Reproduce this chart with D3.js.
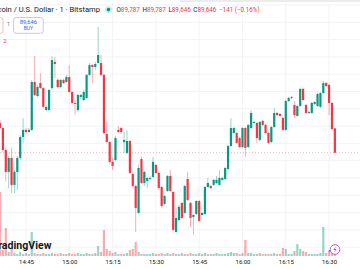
<!DOCTYPE html>
<html><head><meta charset="utf-8">
<script src="https://cdn.jsdelivr.net/npm/d3@7"></script>
<style>html,body{margin:0;padding:0;background:#fff;overflow:hidden}svg{display:block;font-family:Roboto,"Liberation Sans",sans-serif}</style>
</head><body><svg id="c" width="360" height="270"></svg>
<script>
// ---- data (BTC/USD, 1-minute candles, Bitstamp) ----
const startTime = "14:36";
const opens = [89818,89789,89662,89535,89616,89460,89535,89616,89737,89778,
89766,89778,90055,89974,90049,90020,89893,89893,90020,90171,
90067,90026,90067,90055,90084,89997,89934,89893,89968,89951,
89963,90096,90153,90142,90165,90165,90096,89754,89708,89593,
89604,89778,89789,89708,89645,89714,89523,89454,89298,89610,
89471,89483,89494,89506,89575,89529,89448,89350,89425,89512,
89419,89188,89257,89356,89298,89494,89356,89275,89292,89367,
89286,89292,89448,89454,89460,89471,89460,89489,89494,89552,
89685,89760,89760,89731,89679,89789,89679,89789,89818,89818,
89720,89830,89807,89760,89708,89795,89876,89870,89847,89778,
89945,89963,89922,89859,89916,90015,89922,89876,89876,89928,
89916,89911,89991,90049,90038,89934,89787];
const highs = [89835,89795,89679,89627,89674,89546,89627,89749,89847,89789,
89789,90067,90205,90038,90107,90026,89922,90015,90205,90200,
90078,90072,90072,90096,90153,90003,89951,89986,89986,90009,
90101,90165,90159,90171,90373,90211,90101,89824,89714,89616,
89743,89801,89795,89766,89778,89720,89535,89460,89575,89622,
89541,89506,89512,89622,89581,89535,89454,89402,89517,89546,
89425,89327,89344,89361,89460,89535,89361,89292,89373,89373,
89304,89454,89500,89460,89494,89512,89546,89506,89564,89691,
89847,89795,89766,89737,89795,89795,89812,89893,89830,89824,
89830,89835,89812,89766,89801,89905,89882,89876,89853,89951,
89968,89974,89945,89922,90020,90020,89928,89887,89939,89945,
89991,89997,90061,90055,90043,89939,89787];
const lows = [89778,89650,89483,89442,89413,89413,89431,89604,89703,89754,
89760,89772,89974,89968,90015,89905,89887,89887,90009,90078,
90020,90020,90043,90049,89991,89928,89864,89882,89957,89945,
89957,90090,90049,90124,90159,90090,89754,89703,89581,89546,
89598,89760,89754,89645,89639,89523,89448,89188,89292,89465,
89454,89442,89489,89500,89523,89431,89327,89344,89419,89419,
89194,89182,89252,89263,89292,89367,89217,89171,89286,89246,
89281,89286,89442,89437,89454,89465,89454,89483,89489,89546,
89679,89754,89697,89674,89674,89622,89674,89783,89812,89703,
89714,89801,89754,89697,89703,89789,89859,89853,89772,89772,
89939,89957,89847,89853,89911,89945,89870,89870,89870,89922,
89911,89905,89986,90026,89864,89778,89646];
const closes = [89789,89662,89535,89616,89460,89535,89616,89737,89778,89766,
89778,90055,89980,90026,90020,89911,89911,90009,90182,90159,
90026,90067,90049,90084,89997,89934,89928,89980,89980,89997,
90096,90153,90142,90159,90211,90096,89760,89708,89593,89570,
89731,89766,89766,89720,89714,89529,89454,89327,89558,89471,
89535,89500,89500,89593,89529,89442,89338,89396,89512,89425,
89200,89269,89333,89269,89454,89373,89269,89286,89367,89252,
89298,89448,89471,89442,89489,89489,89500,89500,89558,89685,
89789,89789,89703,89679,89789,89674,89807,89876,89824,89731,
89824,89807,89760,89703,89795,89876,89864,89859,89778,89945,
89963,89968,89864,89916,90015,89951,89876,89882,89934,89939,
89986,89991,90049,90032,89934,89783,89646];
const volumes = [6.4,0.6,2.8,0.4,0.7,0.3,0.2,0.4,0.2,0.3,
0.2,2.4,0.3,0.2,0.2,0.3,0.2,0.2,0.3,0.2,
0.2,0.3,0.2,0.2,0.3,0.2,0.2,0.3,0.2,0.2,
0.3,0.2,0.2,0.3,1.0,0.4,2.6,0.7,0.5,0.3,
0.4,0.2,0.2,0.2,0.3,0.6,0.7,1.4,0.4,0.2,
0.2,0.2,0.2,0.3,0.2,0.2,0.3,0.2,0.3,0.2,
0.3,0.2,0.2,0.3,0.2,0.2,0.3,0.2,0.2,0.3,
0.2,0.3,0.2,0.2,0.2,0.3,0.2,0.2,0.2,0.3,
0.4,0.3,0.3,0.2,0.3,1.6,0.3,0.3,0.2,0.2,
0.3,0.2,0.2,0.2,0.2,0.3,0.2,0.2,0.8,0.7,
0.2,0.2,0.5,1.2,0.7,0.5,0.4,0.2,0.2,0.2,
0.2,0.3,2.9,0.3,0.4,0.5,0.3];
const timeTicks = ["14:45","15:00","15:15","15:30","15:45","16:00","16:15","16:30"];
const priceGrid = [89100,89200,89300,89400,89500,89600,89700,89800,89900,90000,90100,90200,90300,90400,90500];
const lastPrice = 89646;
const titleText = "Bitcoin / U.S. Dollar · 1 · Bitstamp";
const ohlcLabels = ["O","H","L","C"];
const ohlcValues = ["89,787","89,787","89,646","89,646"];
const changeText = "−141 (−0.16%)";
const buyPrice = "89,646";

// ---- drawing ----
const W = 360, H = 270;
const UP = "#089981", DOWN = "#f23645";
const svg = d3.select("#c");
const parse = d3.timeParse("%H:%M");
const t0 = parse(startTime);
const times = opens.map((_, i) => d3.timeMinute.offset(t0, i));
const x = d3.scaleTime().domain([t0, d3.timeMinute.offset(t0, 120)]).range([0, 346.4]);
const y = d3.scaleLinear().domain([89049, 90529]).range([256, 0]);
const v = d3.scaleLinear().domain([0, 10]).range([256, 156]);
const bw = 2.2;

svg.append("rect").attr("width", W).attr("height", H).attr("fill", "#fff");
svg.append("rect").attr("x", 180).attr("y", 0).attr("width", 180).attr("height", 2).attr("fill", "#ececef");

// grid
const tickDates = timeTicks.map(parse);
svg.append("g").selectAll("line").data(tickDates).join("line")
  .attr("x1", d => x(d)).attr("x2", d => x(d)).attr("y1", 3).attr("y2", 256)
  .attr("stroke", "#f2f3f6").attr("stroke-width", 1);
svg.append("g").selectAll("line").data(priceGrid).join("line")
  .attr("x1", 0).attr("x2", W).attr("y1", d => y(d)).attr("y2", d => y(d))
  .attr("stroke", "#f2f3f6").attr("stroke-width", 1);

// volume
svg.append("g").selectAll("rect").data(volumes).join("rect")
  .attr("x", (d, i) => x(times[i]) - bw / 2)
  .attr("y", d => v(d))
  .attr("width", bw)
  .attr("height", d => 256 - v(d))
  .attr("fill", (d, i) => closes[i] >= opens[i] ? UP : DOWN)
  .attr("opacity", 0.42);

// last price line
svg.append("line").attr("x1", 0).attr("x2", W).attr("y1", y(lastPrice)).attr("y2", y(lastPrice))
  .attr("stroke", DOWN).attr("stroke-width", 1).attr("stroke-dasharray", "1,2").attr("opacity", 0.4);

// candles
const cg = svg.append("g");
cg.selectAll("line").data(opens).join("line")
  .attr("x1", (d, i) => x(times[i])).attr("x2", (d, i) => x(times[i]))
  .attr("y1", (d, i) => y(highs[i])).attr("y2", (d, i) => y(lows[i]))
  .attr("stroke", (d, i) => closes[i] >= opens[i] ? UP : DOWN)
  .attr("stroke-width", 0.8).attr("opacity", 0.5);
cg.selectAll("rect").data(opens).join("rect")
  .attr("x", (d, i) => x(times[i]) - bw / 2)
  .attr("y", (d, i) => y(Math.max(d, closes[i])))
  .attr("width", bw)
  .attr("height", (d, i) => Math.max(1, Math.abs(y(d) - y(closes[i]))))
  .attr("fill", (d, i) => closes[i] >= opens[i] ? UP : DOWN);

// time axis
const ax = svg.append("g").attr("transform", "translate(0,256)")
  .call(d3.axisBottom(x).tickValues(tickDates).tickFormat(d3.timeFormat("%H:%M")).tickSize(0).tickPadding(3.5));
ax.select(".domain").remove();
ax.selectAll("text").attr("font-size", 6).attr("fill", "#131722").attr("font-family", "Roboto, sans-serif");

// watermark
svg.append("text").attr("x", 51.5).attr("y", 248.5).attr("text-anchor", "end")
  .attr("font-size", 10.6).attr("font-weight", 700).attr("fill", "#131722").text("TradingView");

// flash icon
const ic = svg.append("g").attr("transform", "translate(335,249.5)");
ic.append("circle").attr("r", 4.8).attr("fill", "#fff").attr("stroke", "#b04ee0").attr("stroke-width", 0.9);
ic.append("path").attr("d", "M0.8,-3 L-1.6,0.6 L0,0.6 L-0.8,3 L1.6,-0.6 L0,-0.6 Z").attr("fill", "#b04ee0");
svg.append("circle").attr("cx", 329.5).attr("cy", 251).attr("r", 1.1).attr("fill", "#7b5cf0");

// header
svg.append("text").attr("x", 100).attr("y", 12.3).attr("text-anchor", "end")
  .attr("font-size", 7.6).attr("fill", "#131722").text(titleText);
svg.append("circle").attr("cx", 108.5).attr("cy", 9.6).attr("r", 3.6).attr("fill", UP).attr("opacity", 0.18);
svg.append("circle").attr("cx", 108.5).attr("cy", 9.6).attr("r", 1.8).attr("fill", UP);
const ht = svg.append("text").attr("x", 116.5).attr("y", 12).attr("font-size", 6.3);
ohlcLabels.forEach((l, i) => {
  ht.append("tspan").attr("fill", "#131722").attr("dx", i ? 2.6 : 0).text(l);
  ht.append("tspan").attr("fill", DOWN).text(ohlcValues[i]);
});
ht.append("tspan").attr("fill", DOWN).attr("dx", 2.6).text(changeText);

// order buttons
svg.append("rect").attr("x", -20).attr("y", 17.5).attr("width", 23).attr("height", 15.8).attr("rx", 2.5)
  .attr("fill", "#fff").attr("stroke", "#f7a9ae").attr("stroke-width", 0.8);
svg.append("text").attr("x", 8.3).attr("y", 26).attr("text-anchor", "middle").attr("font-size", 5).attr("fill", "#6a6d78").text("1");
svg.append("rect").attr("x", 13.6).attr("y", 17.5).attr("width", 29.6).attr("height", 15.8).attr("rx", 2.5)
  .attr("fill", "#fff").attr("stroke", "#a9bdf8").attr("stroke-width", 0.8);
svg.append("text").attr("x", 28.4).attr("y", 24).attr("text-anchor", "middle").attr("font-size", 5.8).attr("fill", "#2962ff").text(buyPrice);
svg.append("text").attr("x", 28.4).attr("y", 30.3).attr("text-anchor", "middle").attr("font-size", 5).attr("fill", "#2962ff").text("BUY");
svg.append("text").attr("x", 5).attr("y", 43.3).attr("text-anchor", "middle").attr("font-size", 6).attr("fill", DOWN).text("2");
</script></body></html>
